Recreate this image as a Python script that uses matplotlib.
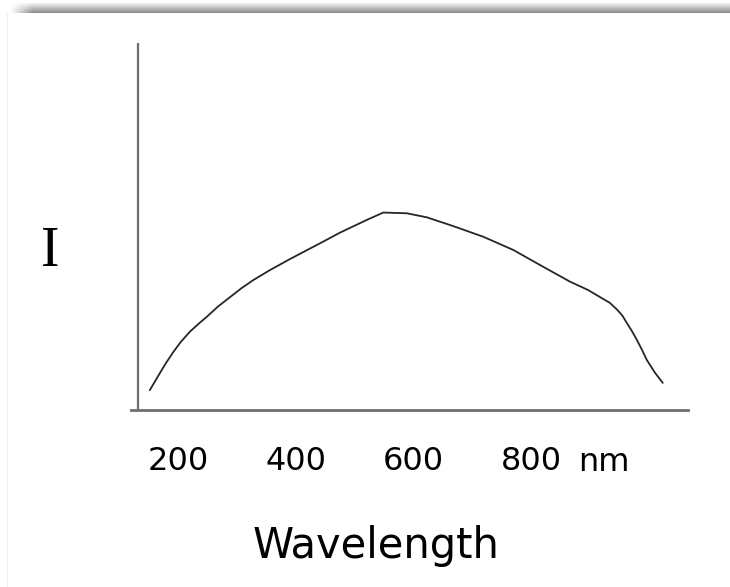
import numpy as np
import matplotlib
matplotlib.use("Agg")
import matplotlib.pyplot as plt
from matplotlib.lines import Line2D

# ---- data ----
wavelength = [152, 162, 169, 180, 192, 205, 220, 235, 249, 268, 288, 308, 328, 356, 390,
              447, 475, 521, 549, 589, 623, 668, 719, 770, 821, 866, 897, 917, 934, 946,
              955, 963, 972, 980, 989, 997, 1011, 1024]
intensity = [5.4, 8.1, 10.0, 12.9, 15.8, 18.6, 21.3, 23.5, 25.4, 28.2, 30.7, 33.2, 35.4,
             38.1, 41.1, 45.9, 48.3, 51.8, 53.8, 53.6, 52.5, 50.1, 47.2, 43.6, 39.0,
             35.0, 32.7, 30.8, 29.2, 27.4, 25.8, 23.7, 21.4, 19.1, 16.3, 13.6, 10.1, 7.4]
tick_values = [200, 400, 600, 800]
tick_labels = ["200", "400", "600", "800"]
unit_label = "nm"
x_label = "Wavelength"
y_label = "I"

W, H = 730, 587
fig = plt.figure(figsize=(W / 100, H / 100), dpi=100)
fig.patch.set_facecolor("white")

# top shadow band
band = fig.add_axes([10 / W, 1 - 13 / H, 1 - 10 / W, 10 / H])
band.axis("off")
ny, nx = 20, 400
g = np.linspace(0.95, 0.55, ny)[:, None] * np.ones((1, nx))
fade = np.clip(np.linspace(0, 1, nx) / 0.03, 0, 1)[None, :]
img = 1 - (1 - g) * fade
band.imshow(img, cmap="gray", vmin=0, vmax=1, aspect="auto",
            interpolation="bilinear")

# faint left border
fig.add_artist(Line2D([7 / W, 7 / W], [0, 1 - 13 / H], color="#f0f0f0",
                      lw=1.0, transform=fig.transFigure))

ax = fig.add_axes([131 / W, 1 - 410 / H, (688 - 131) / W, (410 - 43) / H])
ax.set_xlim(120.1, 1066.9)
ax.set_ylim(0, 100)
for s in ["top", "right", "left"]:
    ax.spines[s].set_visible(False)
ax.spines["bottom"].set_color("#6e6e6e")
ax.spines["bottom"].set_linewidth(2.0)
ax.axvline(132, color="#6e6e6e", lw=1.6)

ax.plot(wavelength, intensity, color="#262626", lw=1.3,
        solid_joinstyle="round", solid_capstyle="round")

ax.set_yticks([])
ax.set_xticks(tick_values)
ax.set_xticklabels(tick_labels, fontsize=23, family="DejaVu Sans")
ax.tick_params(axis="x", length=0, pad=26)

fig.text(578 / W, 1 - 471 / H, unit_label, fontsize=23, family="DejaVu Sans",
         ha="left", va="baseline")
fig.text(376 / W, 1 - 558 / H, x_label, fontsize=30, family="DejaVu Sans",
         ha="center", va="baseline")
fig.text(50 / W, 1 - 266 / H, y_label, fontsize=40, family="Liberation Serif",
         ha="center", va="baseline")

fig.savefig("out.png", dpi=100, facecolor="white")
